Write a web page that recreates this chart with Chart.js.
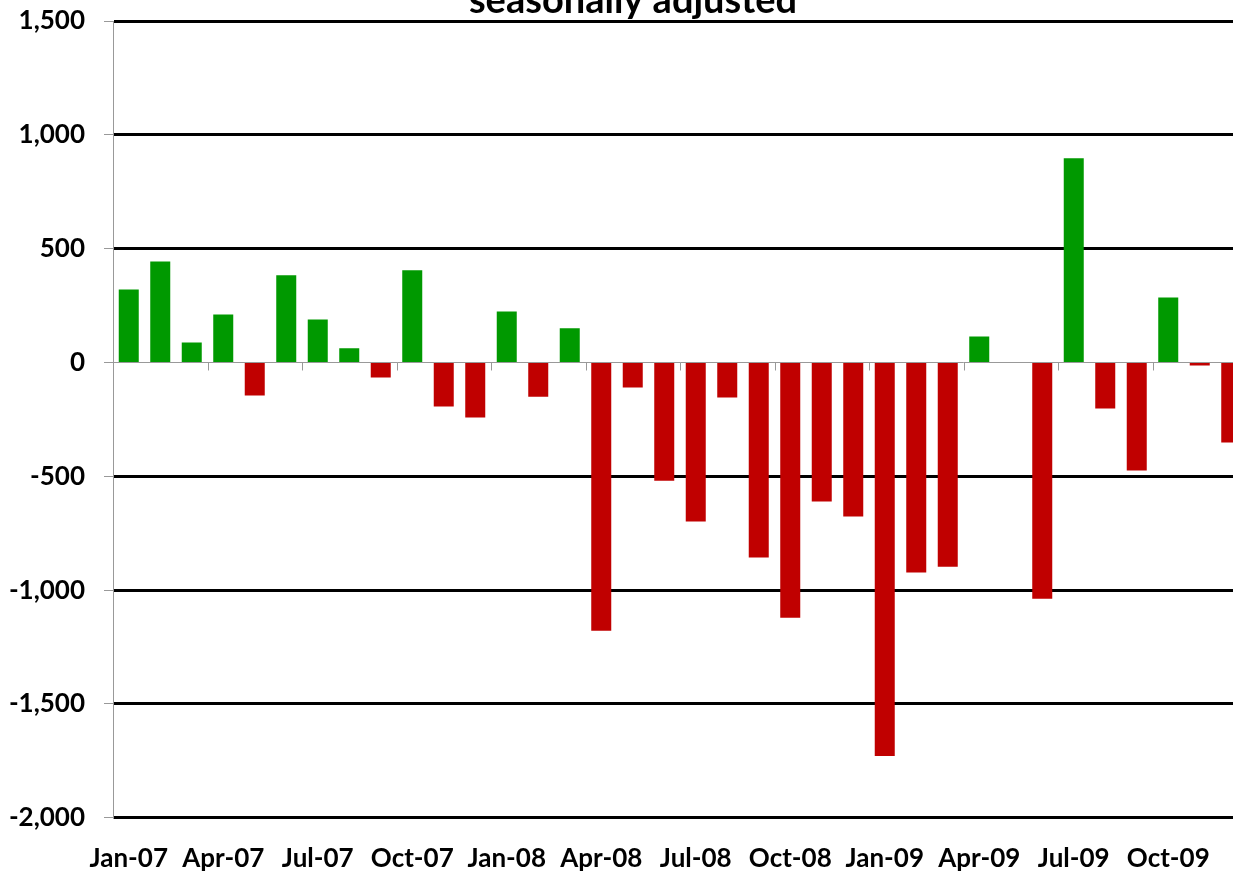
<!DOCTYPE html>
<html>
<head>
<meta charset="utf-8">
<script src="https://cdn.jsdelivr.net/npm/chart.js@4"></script>
<style>
  html, body { margin: 0; padding: 0; background: #fff; overflow: hidden; }
  body { width: 1233px; height: 874px; position: relative; }
  #jobs-chart { position: absolute; left: 0; top: -18px; }
</style>
</head>
<body>
<canvas id="jobs-chart" width="1266" height="917"></canvas>
<script>
const months = [
  'Jan-07','Feb-07','Mar-07','Apr-07','May-07','Jun-07','Jul-07','Aug-07','Sep-07','Oct-07','Nov-07','Dec-07',
  'Jan-08','Feb-08','Mar-08','Apr-08','May-08','Jun-08','Jul-08','Aug-08','Sep-08','Oct-08','Nov-08','Dec-08',
  'Jan-09','Feb-09','Mar-09','Apr-09','May-09','Jun-09','Jul-09','Aug-09','Sep-09','Oct-09','Nov-09','Dec-09'
];
const changes = [
  321, 444, 88, 211, -145, 383, 189, 62, -66, 405, -193, -242,
  224, -150, 150, -1178, -110, -519, -699, -154, -857, -1121, -611, -677,
  -1728, -923, -897, 114, 0, -1038, 897, -202, -475, 286, -13, -352
];
const yTicks = [-2000, -1500, -1000, -500, 0, 500, 1000, 1500];

const GREEN = '#009900';
const RED = '#C00000';

Chart.defaults.font.family = 'Lato';
Chart.defaults.color = '#000';

// little marks under the zero line every three months
const quarterTicks = {
  id: 'quarterTicks',
  afterDatasetsDraw(chart) {
    const x = chart.scales.x, y = chart.scales.y;
    const y0 = y.getPixelForValue(0);
    const half = (x.getPixelForValue(1) - x.getPixelForValue(0)) / 2;
    const ctx = chart.ctx;
    ctx.save();
    ctx.strokeStyle = '#999';
    ctx.lineWidth = 1;
    for (let i = 3; i < months.length; i += 3) {
      const px = Math.round(x.getPixelForValue(i) - half) + 0.5;
      ctx.beginPath();
      ctx.moveTo(px, y0);
      ctx.lineTo(px, y0 + 8);
      ctx.stroke();
    }
    ctx.restore();
  }
};

new Chart(document.getElementById('jobs-chart'), {
  type: 'bar',
  data: {
    labels: months,
    datasets: [{
      data: changes,
      backgroundColor: changes.map(v => v >= 0 ? GREEN : RED),
      borderWidth: 0,
      barPercentage: 0.635,
      categoryPercentage: 1
    }]
  },
  options: {
    responsive: false,
    animation: false,
    layout: { padding: 0 },
    plugins: {
      legend: { display: false },
      tooltip: { enabled: false },
      title: {
        display: true,
        text: 'seasonally adjusted',
        font: { size: 38, weight: 'bold', lineHeight: 1 },
        color: '#000',
        padding: { top: 0, bottom: 1 }
      }
    },
    scales: {
      x: {
        grid: { display: false, drawTicks: false },
        border: { display: false },
        ticks: {
          autoSkip: false,
          maxRotation: 0,
          padding: 25,
          font: { size: 26, weight: 'bold' },
          callback: (v, i) => i % 3 === 0 ? months[i] : ''
        }
      },
      y: {
        min: yTicks[0],
        max: yTicks[yTicks.length - 1],
        afterBuildTicks: (s) => { s.ticks = yTicks.map(v => ({ value: v })); },
        afterFit: (s) => { s.width = 113; },
        border: { display: true, color: '#999', width: 1 },
        grid: {
          color: (c) => c.tick && c.tick.value === 0 ? '#999' : '#000',
          lineWidth: (c) => c.tick && c.tick.value === 0 ? 1 : 3,
          tickColor: '#999',
          tickWidth: 1,
          tickLength: 9
        },
        ticks: {
          padding: 19,
          font: { size: 26, weight: 'bold' }
        }
      },
      // empty spacer on the right so the plot runs just past the page edge
      yRight: {
        position: 'right',
        min: yTicks[0],
        max: yTicks[yTicks.length - 1],
        grid: { display: false, drawTicks: false },
        border: { display: false },
        ticks: { display: false },
        afterFit: (s) => { s.width = 19; }
      }
    }
  },
  plugins: [quarterTicks]
});
</script>
</body>
</html>
